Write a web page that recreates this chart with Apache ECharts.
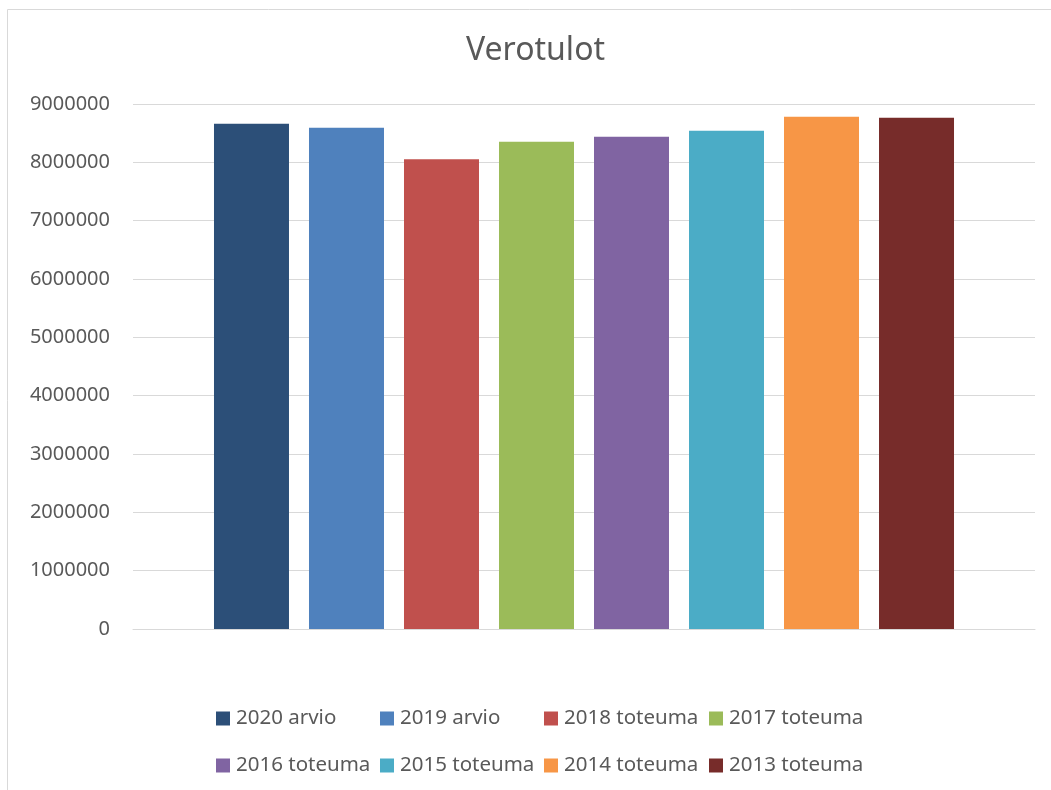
<!DOCTYPE html>
<html>
<head>
<meta charset="utf-8">
<style>
html,body{margin:0;padding:0;background:#fff;}
#chart{width:1051px;height:790px;}
</style>
<script src="https://cdn.jsdelivr.net/npm/echarts@6/dist/echarts.min.js"></script>
</head>
<body>
<div id="chart"></div>
<script>
var seriesNames = ['2020 arvio','2019 arvio','2018 toteuma','2017 toteuma','2016 toteuma','2015 toteuma','2014 toteuma','2013 toteuma'];
var seriesValues = [8663000, 8595000, 8052000, 8355000, 8440000, 8543000, 8783000, 8766000];
var colors = ['#2c4f78','#4f81bd','#c0504d','#9bbb59','#8064a2','#4bacc6','#f79646','#772c2a'];
var yTicks = [0, 9000000, 1000000]; // min, max, interval

var legendCols = [216, 380, 544, 709];
var legendRows = [708, 755];
var font = 'Noto Sans, sans-serif';

var chart = echarts.init(document.getElementById('chart'));
var legends = seriesNames.map(function(n, i){
  return {
    data: [n],
    left: legendCols[i % 4],
    top: legendRows[Math.floor(i / 4)],
    padding: 0,
    itemWidth: 14, itemHeight: 14, itemGap: 0,
    icon: 'rect',
    selectedMode: false,
    textStyle: {fontFamily: font, fontSize: 20.5, lineHeight: 20, color: '#595959', padding: [0,0,0,1]}
  };
});
var series = seriesNames.map(function(n, i){
  return {
    name: n, type: 'bar', data: [seriesValues[i]],
    barWidth: 75, barGap: '26.67%',
    itemStyle: {color: colors[i]}
  };
});
chart.setOption({
  animation: false,
  color: colors,
  title: {
    text: 'Verotulot', left: 466, top: 35, padding: 0,
    textStyle: {fontFamily: font, fontSize: 32, fontWeight: 'normal', color: '#595959'}
  },
  graphic: [{
    type: 'rect', shape: {x: 7.5, y: 9.5, width: 1100, height: 900},
    style: {fill: 'none', stroke: '#d9d9d9', lineWidth: 1}, silent: true, z: -1
  }],
  legend: legends,
  grid: {left: 133, right: 16, top: 104, bottom: 161},
  xAxis: {
    type: 'category', data: [''],
    axisLine: {show: true, lineStyle: {color: '#d9d9d9', width: 1}},
    axisTick: {show: false}, axisLabel: {show: false}
  },
  yAxis: {
    type: 'value', min: yTicks[0], max: yTicks[1], interval: yTicks[2],
    axisLine: {show: false}, axisTick: {show: false},
    axisLabel: {fontFamily: font, fontSize: 20, color: '#595959', margin: 23,
      formatter: function(v){ return String(v); }},
    splitLine: {lineStyle: {color: '#d9d9d9', width: 1}}
  },
  series: series
});
</script>
</body>
</html>
